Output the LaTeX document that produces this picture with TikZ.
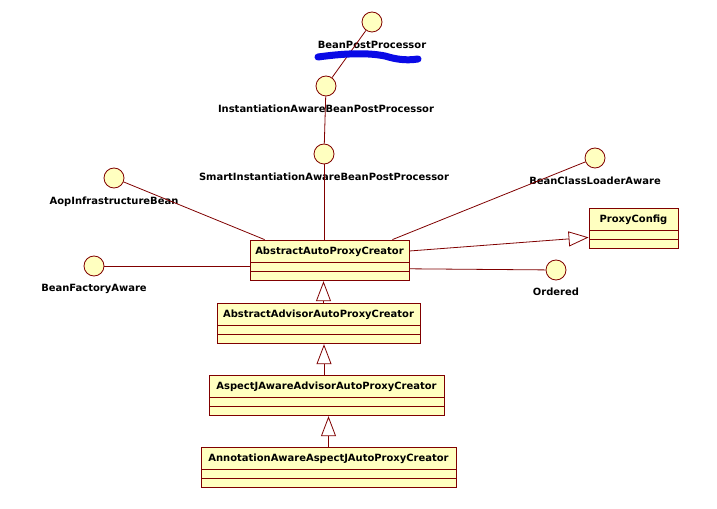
\documentclass[tikz,border=0pt]{standalone}
\usepackage{fontspec}
\newfontfamily\umlfont{DejaVu Sans}
\usetikzlibrary{positioning,calc,arrows.meta}
\definecolor{umlred}{HTML}{800000}
\definecolor{umlfill}{HTML}{FFFFC0}
\definecolor{marker}{HTML}{0A0AE6}
\tikzstyle{uml}=[
  x=1bp,y=-1bp,line width=0.8bp,font=\umlfont\bfseries\fontsize{10}{12}\selectfont
]
\tikzstyle{classhead}=[
  draw=umlred,fill=umlfill,minimum height=22bp,inner sep=0pt,text height=7.3bp,text depth=0bp
]
\tikzstyle{classbody}=[
  draw=umlred,fill=umlfill,minimum height=18bp,inner sep=0pt,anchor=north,
  path picture={\draw[umlred] (path picture bounding box.west) -- (path picture bounding box.east);}
]
\tikzstyle{iface}=[
  draw=umlred,fill=umlfill,circle,minimum size=20bp,inner sep=0pt
]
\tikzstyle{ifacename}=[
  inner sep=0pt,text height=7.5bp,text depth=2bp
]
\tikzstyle{assoc}=[
  draw=umlred
]
\tikzstyle{gen}=[
  draw=umlred,-{Triangle[open,length=20bp,width=15bp]}
]
\tikzstyle{scribble}=[
  draw=marker,line width=7bp,line cap=round
]
% class box: name, center x, title center y, width, title
\newcommand{\umlclass}[5]{%
  \node[classhead,minimum width=#4] (#1) at (#2,#3) {#5};
  \node[classbody,minimum width=#4] (#1b) at (#1.south) {};
}

\begin{document}
\begin{tikzpicture}[uml]
  \fill[white] (0,0) rectangle (717,509);
  \useasboundingbox (0,0) rectangle (717,509);

  % interfaces
  \node[iface] (bpp) at (372,22) {};
  \node[ifacename,below=8bp of bpp] (bppn) {BeanPostProcessor};
  \node[iface] (iabpp) at (326,86) {};
  \node[ifacename,below=8bp of iabpp] (iabppn) {InstantiationAwareBeanPostProcessor};
  \node[iface] (smart) at (324,154) {};
  \node[ifacename,below=8bp of smart] (smartn) {SmartInstantiationAwareBeanPostProcessor};
  \node[iface] (aop) at (114,178) {};
  \node[ifacename,below=8bp of aop] (aopn) {AopInfrastructureBean};
  \node[iface] (bfa) at (94,266) {};
  \node[ifacename,below=7bp of bfa] (bfan) {BeanFactoryAware};
  \node[iface] (bcla) at (595,158) {};
  \node[ifacename,below=8bp of bcla] (bclan) {BeanClassLoaderAware};
  \node[iface] (ord) at (556,270) {};
  \node[ifacename,below=7bp of ord] (ordn) {Ordered};

  % classes
  \umlclass{pc}{633.5}{219}{89bp}{ProxyConfig}
  \umlclass{aapc}{329.5}{251}{159bp}{AbstractAutoProxyCreator}
  \umlclass{aaapc}{318.5}{314}{203bp}{AbstractAdvisorAutoProxyCreator}
  \umlclass{aj}{326.5}{386}{235bp}{AspectJAwareAdvisorAutoProxyCreator}
  \umlclass{ann}{328.5}{458}{255bp}{AnnotationAwareAspectJAutoProxyCreator}

  % realizations
  \draw[assoc] (bpp) -- (iabpp);
  \draw[assoc] (iabpp) -- (smart);
  \draw[assoc] (smart) -- (smart |- aapc.north);
  \draw[assoc] (aop) -- ([xshift=15bp]aapc.north west);
  \draw[assoc] (bfa) -- (bfa -| aapcb.west);
  \draw[assoc] (bcla) -- ([xshift=-17bp]aapc.north east);
  \draw[assoc] ([yshift=3bp]aapcb.east) -- (ord);

  % generalizations
  \draw[gen] (aapc.east) -- ([yshift=-7bp]pc.south west);
  \draw[gen] ([xshift=5bp]aaapc.north) -- ([xshift=5bp]aaapc.north |- aapcb.south);
  \draw[gen] ([xshift=-2.5bp]aj.north) -- ([xshift=-2.5bp]aj.north |- aaapcb.south);
  \draw[gen] (ann.north) -- (ann.north |- ajb.south);

  % marker stroke
  \draw[scribble] (318,57) .. controls (340,54) and (365,52) .. (385,56)
    .. controls (395,59) and (405,61) .. (418,59);
\end{tikzpicture}
\end{document}
